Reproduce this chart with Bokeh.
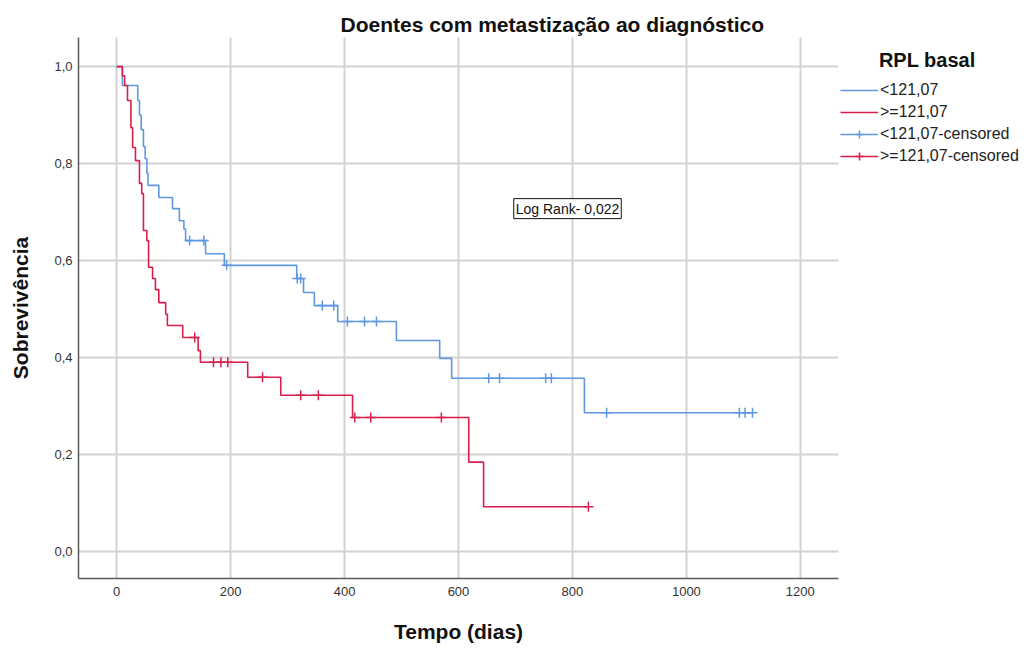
import numpy as np
from bokeh.plotting import figure
from bokeh.models import (Range1d, FixedTicker, CustomJSTickFormatter, Legend,
                          LegendItem, Label)
from bokeh.embed import file_html
from bokeh.resources import INLINE

# Kaplan-Meier survival, RPL basal < 121,07 (time in days, survival after each drop)
low_times = [0, 10, 37, 40, 43, 47, 50, 53, 55, 74, 98, 110, 118, 121, 156, 189,
             316, 328, 347, 388, 491, 567, 588, 821]
low_surv = [1.0, 0.961, 0.930, 0.900, 0.870, 0.835, 0.810, 0.780, 0.755, 0.730,
            0.707, 0.682, 0.665, 0.641, 0.614, 0.590, 0.563, 0.534, 0.507, 0.474,
            0.435, 0.398, 0.357, 0.286]
low_last = 1116
low_censored = [128, 153, 193, 317, 323, 361, 381, 405, 435, 456, 653, 672, 753,
                763, 860, 1093, 1103, 1116]

# Kaplan-Meier survival, RPL basal >= 121,07
high_times = [0, 10, 14, 19, 25, 28, 33, 40, 44, 47, 53, 56, 63, 68, 74, 86, 89,
              116, 143, 147, 230, 288, 414, 618, 644]
high_surv = [1.0, 0.981, 0.961, 0.930, 0.874, 0.833, 0.806, 0.759, 0.738, 0.662,
             0.641, 0.586, 0.563, 0.540, 0.513, 0.489, 0.466, 0.441, 0.414, 0.390,
             0.359, 0.322, 0.276, 0.184, 0.092]
high_last = 828
high_censored = [137, 170, 183, 195, 256, 323, 354, 418, 446, 570, 828]

x_ticks = [0, 200, 400, 600, 800, 1000, 1200]
y_ticks = [0.0, 0.2, 0.4, 0.6, 0.8, 1.0]
log_rank_text = "Log Rank- 0,022"
legend_title = "RPL basal"

BLUE = "#5f98e0"
RED = "#d81e4a"
FONT = "Liberation Sans"


def step_xy(times, surv, last):
    xs = list(times) + [last]
    ys = list(surv) + [surv[-1]]
    return xs, ys


def level_at(times, surv, ts):
    idx = np.searchsorted(np.asarray(times), np.asarray(ts), side="right") - 1
    return [surv[i] for i in idx]


p = figure(width=1032, height=648, frame_width=760, frame_height=541,
           output_backend="svg", toolbar_location=None,
           x_range=Range1d(-67, 1267), y_range=Range1d(-0.056, 1.06),
           min_border_left=78, min_border_right=194, min_border_top=37,
           min_border_bottom=70)
p.outline_line_color = None
p.background_fill_color = "white"

p.title.text = "Doentes com metastização ao diagnóstico"
p.title.align = "left"
p.title.offset = 262
p.title.text_font = FONT
p.title.text_font_size = "21px"
p.title.text_font_style = "bold"
p.title.text_color = "#111111"
p.title.standoff = 4

# grid
p.grid.grid_line_color = "#d2d2d2"
p.grid.grid_line_width = 2
p.xgrid.ticker = FixedTicker(ticks=x_ticks)
p.ygrid.ticker = FixedTicker(ticks=y_ticks)

# axes
p.xaxis.ticker = FixedTicker(ticks=x_ticks)
p.yaxis.ticker = FixedTicker(ticks=y_ticks)
p.yaxis.formatter = CustomJSTickFormatter(code="return tick.toFixed(1).replace('.', ',');")
for ax in (p.xaxis, p.yaxis):
    ax.major_tick_line_color = None
    ax.minor_tick_line_color = None
    ax.major_tick_out = 0
    ax.major_tick_in = 0
    ax.axis_line_color = "#5a5a5a"
    ax.axis_line_width = 1.5
    ax.major_label_text_font = FONT
    ax.major_label_text_font_size = "13px"
    ax.major_label_text_color = "#333333"
    ax.axis_label_text_font = FONT
    ax.axis_label_text_font_size = "21px"
    ax.axis_label_text_font_style = "bold"
    ax.axis_label_text_color = "#111111"
p.xaxis.axis_label = "Tempo (dias)"
p.yaxis.axis_label = "Sobrevivência"
p.xaxis.major_label_standoff = 8
p.xaxis.axis_label_standoff = 21
p.yaxis.major_label_standoff = 6
p.yaxis.axis_label_standoff = 19

# survival curves
lx, ly = step_xy(low_times, low_surv, low_last)
hx, hy = step_xy(high_times, high_surv, high_last)
r_low = p.step(lx, ly, mode="after", line_color=BLUE, line_width=1.6)
r_high = p.step(hx, hy, mode="after", line_color=RED, line_width=1.6)

# censored observations
c_low = p.scatter(low_censored, level_at(low_times, low_surv, low_censored),
                  marker="cross", size=10, line_color=BLUE, line_width=1.5)
c_high = p.scatter(high_censored, level_at(high_times, high_surv, high_censored),
                   marker="cross", size=10, line_color=RED, line_width=1.5)

p.add_layout(Label(x=697, y=0.707, text=log_rank_text, text_font=FONT,
                   text_font_size="14px", text_baseline="middle",
                   text_color="#111111", border_line_color="#111111",
                   border_line_width=1, background_fill_color="white",
                   padding=2))

legend = Legend(items=[
    LegendItem(label="<121,07", renderers=[r_low]),
    LegendItem(label=">=121,07", renderers=[r_high]),
    LegendItem(label="<121,07-censored", renderers=[r_low, c_low]),
    LegendItem(label=">=121,07-censored", renderers=[r_high, c_high]),
], title="\u00a0" * 7 + legend_title, location=(2, 412))
legend.title_text_font = FONT
legend.title_text_font_size = "20px"
legend.title_text_font_style = "bold"
legend.title_text_color = "#111111"
legend.title_standoff = 8
legend.label_text_font = FONT
legend.label_text_font_size = "16px"
legend.label_text_color = "#222222"
legend.glyph_width = 38
legend.glyph_height = 20
legend.label_height = 20
legend.spacing = 2
legend.label_standoff = 2
legend.padding = 2
legend.margin = 0
legend.border_line_color = None
legend.background_fill_alpha = 0
p.add_layout(legend, "right")

open("out.html", "w").write(file_html(p, INLINE))
